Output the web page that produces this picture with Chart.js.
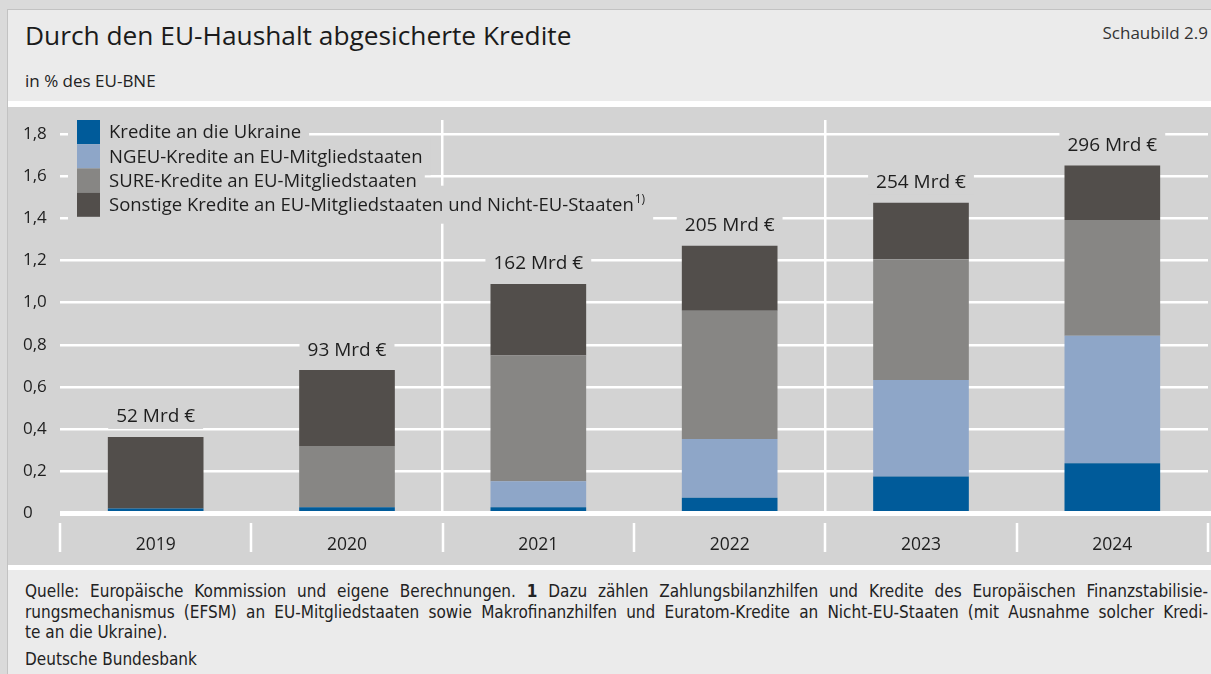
<!DOCTYPE html>
<html><head><meta charset="utf-8">
<script src="https://cdn.jsdelivr.net/npm/chart.js@4"></script>
<style>
html,body{margin:0;padding:0;}
body{width:1211px;height:674px;background:#dadada;position:relative;overflow:hidden;font-family:"Open Sans",sans-serif;color:#1e1e1e;}
#panel{position:absolute;left:7px;top:9px;width:1204px;height:665px;background:#ebebeb;border-top:1px solid #c2c2c2;border-left:1px solid #c2c2c2;box-sizing:border-box;}
.abs{position:absolute;white-space:nowrap;}
#title{left:25px;top:20px;font-size:26.3px;line-height:30px;color:#1b1b1b;}
#sub{left:25px;top:71px;font-size:17px;line-height:20px;color:#222;}
#num{right:3px;top:23px;font-size:17px;line-height:20px;color:#333;}
#white1{position:absolute;left:8px;top:101px;width:1203px;height:6px;background:#fff;}
#wrap{position:absolute;left:8px;top:107px;width:1203px;height:458px;background:#d3d3d3;}
#white2{position:absolute;left:8px;top:565px;width:1203px;height:5px;background:#fff;}
#fn{position:absolute;left:25px;top:581px;width:1183px;font-family:"Liberation Sans Narrow","DejaVu Sans Condensed",sans-serif;font-size:17px;line-height:20.5px;color:#222;}
#fn .jl{text-align:justify;text-align-last:justify;white-space:nowrap;}
#src{left:25px;top:649px;font-family:"Liberation Sans Narrow","DejaVu Sans Condensed",sans-serif;font-size:17px;line-height:21px;color:#222;}
</style></head>
<body>
<div id="panel"></div>
<div id="title" class="abs">Durch den EU-Haushalt abgesicherte Kredite</div>
<div id="num" class="abs">Schaubild 2.9</div>
<div id="sub" class="abs">in % des EU-BNE</div>
<div id="white1"></div>
<div id="wrap"><canvas id="c" width="1203" height="458"></canvas></div>
<div id="white2"></div>
<div id="fn">
<div class="jl">Quelle: Europäische Kommission und eigene Berechnungen. <b>1</b> Dazu zählen Zahlungsbilanzhilfen und Kredite des Europäischen Finanzstabilisie-</div>
<div class="jl">rungsmechanismus (EFSM) an EU-Mitgliedstaaten sowie Makrofinanzhilfen und Euratom-Kredite an Nicht-EU-Staaten (mit Ausnahme solcher Kredi-</div>
<div>te an die Ukraine).</div>
</div>
<div id="src" class="abs">Deutsche Bundesbank</div>
<script>
const years = ['2019', '2020', '2021', '2022', '2023', '2024'];
const ukraine  = [0.024, 0.03, 0.03, 0.075, 0.175, 0.238];
const ngeu     = [0, 0, 0.123, 0.278, 0.458, 0.605];
const sure     = [0, 0.29, 0.598, 0.608, 0.573, 0.549];
const sonstige = [0.339, 0.36, 0.337, 0.309, 0.268, 0.258];
const totalLabels = ['52 Mrd €', '93 Mrd €', '162 Mrd €', '205 Mrd €', '254 Mrd €', '296 Mrd €'];
const legendLabels = ['Kredite an die Ukraine', 'NGEU-Kredite an EU-Mitgliedstaaten', 'SURE-Kredite an EU-Mitgliedstaaten', 'Sonstige Kredite an EU-Mitgliedstaaten und Nicht-EU-Staaten'];
const legendNote = '1)';
const yTicks = [0, 0.2, 0.4, 0.6, 0.8, 1.0, 1.2, 1.4, 1.6, 1.8];

const colors = ['#005b9a', '#8ea6c8', '#878684', '#524e4b'];
const BG = '#d3d3d3';
const FONT = '"Open Sans", sans-serif';
const series = [ukraine, ngeu, sure, sonstige];

const decor = {
  id: 'decor',
  afterDatasetsDraw(chart) {
    const {ctx, chartArea: a, scales: {x, y}} = chart;
    ctx.save();
    ctx.fillStyle = '#fff';
    const y0 = y.getPixelForValue(0);
    ctx.fillRect(a.left, y0 - 2.5, chart.width - a.left, 5);
    const step = x.getPixelForValue(1) - x.getPixelForValue(0);
    for (let i = 0; i <= years.length; i++) {
      const px = x.getPixelForValue(0) + (i - 0.5) * step;
      ctx.fillRect(Math.round(px) - 1.25, y0 + 9.5, 2.5, 29);
    }
    // totals
    ctx.font = '19px ' + FONT;
    ctx.textAlign = 'center';
    ctx.textBaseline = 'middle';
    years.forEach((yr, i) => {
      const total = series.reduce((s, arr) => s + arr[i], 0);
      const top = y.getPixelForValue(total);
      const cx = x.getPixelForValue(i);
      const cy = top - 21;
      const w = ctx.measureText(totalLabels[i]).width + 16;
      ctx.fillStyle = BG;
      ctx.fillRect(cx - w / 2, cy - 13, w, 26);
      ctx.fillStyle = '#1e1e1e';
      ctx.fillText(totalLabels[i], cx, cy + 1);
    });
    // legend
    const lx = a.left + 17, ly = a.top, rh = 24.2;
    const lf = '18.5px ' + FONT;
    const supFont = '12px ' + FONT;
    ctx.textAlign = 'left';
    legendLabels.forEach((lab, i) => {
      const cy = ly + rh * i + rh / 2;
      ctx.font = lf;
      let tw = ctx.measureText(lab).width;
      if (i === 3) { ctx.font = supFont; tw += ctx.measureText(legendNote).width + 1; }
      ctx.fillStyle = BG;
      ctx.fillRect(lx - 9, cy - 19, 9 + 32 + tw + 8, 38);
    });
    legendLabels.forEach((lab, i) => {
      const cy = ly + rh * i + rh / 2;
      ctx.fillStyle = colors[i];
      ctx.fillRect(lx, ly + rh * i, 23, rh);
      ctx.fillStyle = '#1e1e1e';
      ctx.font = lf;
      ctx.fillText(lab, lx + 32, cy + 1);
      if (i === 3) {
        const tw = ctx.measureText(lab).width;
        ctx.font = supFont;
        ctx.fillText(legendNote, lx + 32 + tw + 1, cy - 5);
      }
    });
    ctx.restore();
  }
};

new Chart(document.getElementById('c'), {
  type: 'bar',
  data: {
    labels: years,
    datasets: legendLabels.map((lab, i) => ({
      label: lab,
      data: series[i],
      backgroundColor: colors[i],
      borderWidth: 0,
      barPercentage: 0.5,
      categoryPercentage: 1.0
    }))
  },
  options: {
    responsive: false,
    devicePixelRatio: 1,
    animation: false,
    layout: {padding: {left: 15, right: 3, top: 13, bottom: 0}},
    plugins: {legend: {display: false}, tooltip: {enabled: false}},
    scales: {
      x: {
        stacked: true,
        offset: true,
        grid: {
          offset: true,
          drawTicks: false,
          lineWidth: 2.5,
          color: (c) => (c.index === 2 || c.index === 4) ? '#ffffff' : 'rgba(0,0,0,0)'
        },
        border: {display: false},
        ticks: {font: {family: FONT, size: 17.5}, color: '#1e1e1e', padding: 21, maxRotation: 0},
        afterFit: (s) => { s.height = 51.5; }
      },
      y: {
        stacked: true,
        min: 0,
        max: 1.866,
        afterBuildTicks: (s) => { s.ticks = yTicks.map(v => ({value: v})); },
        grid: {
          drawTicks: false,
          lineWidth: 2.5,
          color: (c) => (c.tick && c.tick.value === 0) ? 'rgba(0,0,0,0)' : '#ffffff'
        },
        border: {display: false},
        ticks: {
          font: {family: FONT, size: 17},
          color: '#1e1e1e',
          crossAlign: 'far',
          padding: 0,
          callback: (v) => v === 0 ? '0' : Number(v).toFixed(1).replace('.', ',')
        },
        afterFit: (s) => { s.width = 37; }
      }
    }
  },
  plugins: [decor]
});
</script>
</body></html>
